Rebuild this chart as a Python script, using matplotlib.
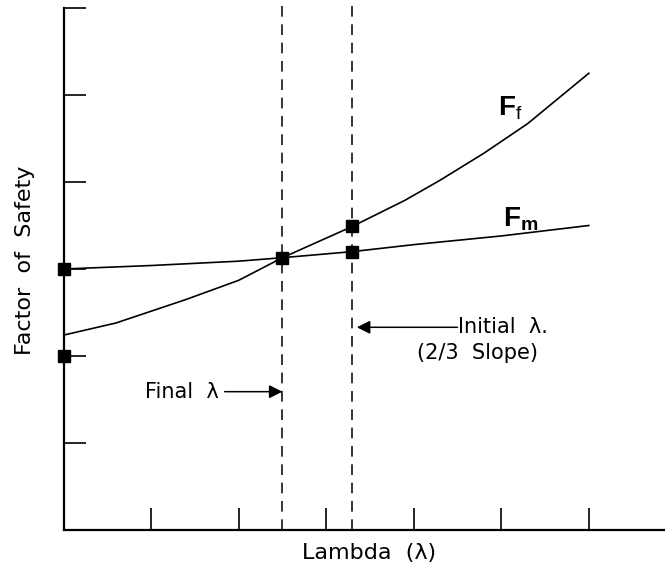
import matplotlib.pyplot as plt

plt.rcParams['font.family'] = ['DejaVu Sans']
plt.rcParams['mathtext.fontset'] = 'custom'
plt.rcParams['mathtext.rm'] = 'Liberation Sans'
plt.rcParams['mathtext.bf'] = 'Liberation Sans:bold'

# curve values
ff_x = [0, 0.6, 1.4, 2.0, 2.5, 3.3, 3.9, 4.3, 4.8, 5.3, 6.0]
ff_y = [2.24, 2.38, 2.65, 2.87, 3.13, 3.49, 3.79, 4.02, 4.33, 4.67, 5.25]
fm_x = [0, 1.0, 2.0, 2.5, 3.3, 4.0, 5.0, 6.0]
fm_y = [3.0, 3.04, 3.09, 3.13, 3.2, 3.28, 3.38, 3.5]

# square markers
pts_x = [0, 0, 2.5, 3.3, 3.3]
pts_y = [3.0, 2.0, 3.13, 3.2, 3.49]

final_lam = 2.5
initial_lam = 3.3
ticks = [1, 2, 3, 4, 5, 6]

fig = plt.figure(figsize=(6.65, 5.8), dpi=100)
ax = fig.add_axes([0.0956, 0.0862, 0.9044, 0.9])

ax.plot(ff_x, ff_y, color='k', lw=1.2)
ax.plot(fm_x, fm_y, color='k', lw=1.2)
ax.plot(pts_x, pts_y, 's', color='k', ms=8.5, clip_on=False, zorder=5)

for xv in [final_lam, initial_lam]:
    ax.plot([xv, xv], [0, 6.1], color='k', lw=1.1, ls=(0, (7, 5)), clip_on=False)

ax.set_xlim(0, 6.87)
ax.set_ylim(0, 6)
ax.spines['top'].set_visible(False)
ax.spines['right'].set_visible(False)
ax.spines['left'].set_linewidth(1.6)
ax.spines['bottom'].set_linewidth(1.6)
ax.set_xticks(ticks)
ax.set_yticks(ticks)
ax.set_xticklabels([])
ax.set_yticklabels([])
ax.tick_params(direction='in', length=16, width=1.2)

ax.text(5.1, 4.85, r'$\mathbf{F}_\mathrm{f}$', fontsize=20, ha='center', va='center')
ax.text(5.22, 3.58, r'$\mathbf{F_m}$', fontsize=20, ha='center', va='center')

ax.annotate('', xy=(final_lam, 1.59), xytext=(1.84, 1.59),
            arrowprops=dict(arrowstyle='-|>', mutation_scale=20, lw=1.1, color='k',
                            shrinkA=0, shrinkB=0))
ax.text(1.77, 1.59, 'Final  λ', fontsize=15, ha='right', va='center')

ax.annotate('', xy=(initial_lam + 0.05, 2.33), xytext=(4.5, 2.33),
            arrowprops=dict(arrowstyle='-|>', mutation_scale=20, lw=1.1, color='k',
                            shrinkA=0, shrinkB=0))
ax.text(4.5, 2.33, 'Initial  λ.', fontsize=15, ha='left', va='center')
ax.text(4.04, 2.03, '(2/3  Slope)', fontsize=15, ha='left', va='center')

fig.text(0.038, 0.552, 'Factor  of  Safety', fontsize=16, rotation=90, ha='center', va='center')
fig.text(0.555, 0.047, 'Lambda  (λ)', fontsize=16, ha='center', va='center')

fig.savefig('out.png', dpi=100)
